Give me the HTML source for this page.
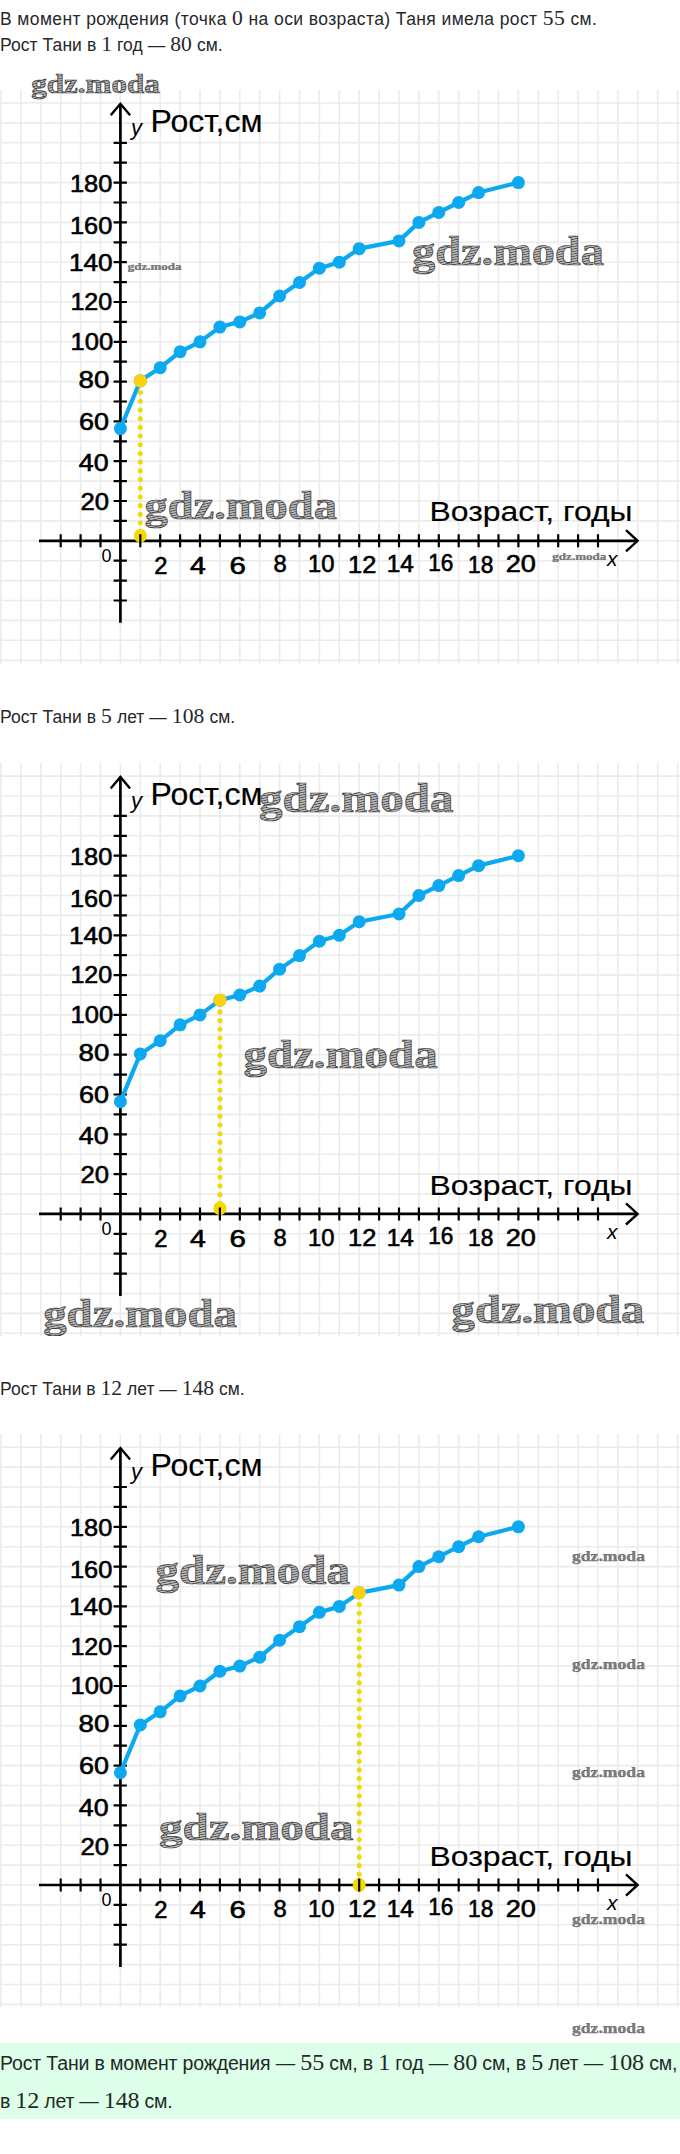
<!DOCTYPE html>
<html><head><meta charset="utf-8">
<style>
html,body{margin:0;padding:0;background:#fff;}
body{width:680px;height:2154px;position:relative;overflow:hidden;font-family:"Liberation Sans",sans-serif;color:#26282c;}
.p{position:absolute;left:0;font-size:17.5px;letter-spacing:0.8px;white-space:nowrap;line-height:26px;}
.k{font-family:"Liberation Serif",serif;font-size:1.235em;}
.bx{font-size:19.5px;color:#1f2a25;}
svg text{font-family:"Liberation Sans",sans-serif;fill:#000;}
svg text.b{stroke:#000;stroke-width:0.6px;}
svg text.b2{stroke:#000;stroke-width:0.15px;}
svg text.wm{font-family:"Liberation Serif",serif;font-weight:bold;fill:url(#hat);stroke:#333;stroke-width:0.65px;}
svg text.wms{font-family:"Liberation Serif",serif;font-weight:bold;fill:#7c7c7c;stroke:#555;stroke-width:0.25px;}
.box{position:absolute;left:0;top:2042.5px;width:680px;height:76px;background:#ddfee9;}
</style></head><body>
<svg width="0" height="0" style="position:absolute"><defs><pattern id="hat" width="20" height="2.4" patternUnits="userSpaceOnUse" patternTransform="rotate(-12)"><rect width="20" height="2.4" fill="#bcbcbc"/><rect width="20" height="0.8" fill="#4a4a4a"/></pattern></defs></svg>
<div class="p" style="top:5px;letter-spacing:0.40px">В момент рождения (точка <span class="k">0</span> на оси возраста) Таня имела рост <span class="k">55</span> см.</div>
<div class="p" style="top:31px;letter-spacing:0.07px">Рост Тани в <span class="k">1</span> год — <span class="k">80</span> см.</div>
<svg width="680" height="613.8" viewBox="0 50.0 680 613.8" style="position:absolute;left:0;top:50.0px">
<path d="M1.00 90.0V663.8M20.90 90.0V663.8M40.80 90.0V663.8M60.70 90.0V663.8M80.60 90.0V663.8M100.50 90.0V663.8M120.40 90.0V663.8M140.30 90.0V663.8M160.20 90.0V663.8M180.10 90.0V663.8M200.00 90.0V663.8M219.90 90.0V663.8M239.80 90.0V663.8M259.70 90.0V663.8M279.60 90.0V663.8M299.50 90.0V663.8M319.40 90.0V663.8M339.30 90.0V663.8M359.20 90.0V663.8M379.10 90.0V663.8M399.00 90.0V663.8M418.90 90.0V663.8M438.80 90.0V663.8M458.70 90.0V663.8M478.60 90.0V663.8M498.50 90.0V663.8M518.40 90.0V663.8M538.30 90.0V663.8M558.20 90.0V663.8M578.10 90.0V663.8M598.00 90.0V663.8M617.90 90.0V663.8M637.80 90.0V663.8M657.70 90.0V663.8M677.60 90.0V663.8M0 103.00H680M0 122.90H680M0 142.80H680M0 162.70H680M0 182.60H680M0 202.50H680M0 222.40H680M0 242.30H680M0 262.20H680M0 282.10H680M0 302.00H680M0 321.90H680M0 341.80H680M0 361.70H680M0 381.60H680M0 401.50H680M0 421.40H680M0 441.30H680M0 461.20H680M0 481.10H680M0 501.00H680M0 520.90H680M0 540.80H680M0 560.70H680M0 580.60H680M0 600.50H680M0 620.40H680M0 640.30H680M0 660.20H680" stroke="#ebebeb" stroke-width="1.6" fill="none"/>
<path d="M140.30 392.50V544.80" stroke="#ecdc00" stroke-width="5" stroke-linecap="round" stroke-dasharray="0.1 8.6" fill="none"/>
<path d="M39 540.80H636 M120.4 622.80V104.80" stroke="#000" stroke-width="2.7" fill="none"/>
<path d="M110.7 115.30L120.4 103.80L130.1 115.30 M626 530.20L637.6 540.80L626 551.40" stroke="#000" stroke-width="2.4" fill="none"/>
<ellipse cx="140.30" cy="535.80" rx="6.5" ry="7" fill="#f4d800"/>
<path d="M60.70 534.30V547.30M80.60 534.30V547.30M100.50 534.30V547.30M140.30 534.30V547.30M160.20 534.30V547.30M180.10 534.30V547.30M200.00 534.30V547.30M219.90 534.30V547.30M239.80 534.30V547.30M259.70 534.30V547.30M279.60 534.30V547.30M299.50 534.30V547.30M319.40 534.30V547.30M339.30 534.30V547.30M359.20 534.30V547.30M379.10 534.30V547.30M399.00 534.30V547.30M418.90 534.30V547.30M438.80 534.30V547.30M458.70 534.30V547.30M478.60 534.30V547.30M498.50 534.30V547.30M518.40 534.30V547.30M538.30 534.30V547.30M558.20 534.30V547.30M578.10 534.30V547.30M598.00 534.30V547.30M113.60 600.50H126.90M113.60 580.60H126.90M113.60 560.70H126.90M113.60 520.90H126.90M113.60 501.00H126.90M113.60 481.10H126.90M113.60 461.20H126.90M113.60 441.30H126.90M113.60 421.40H126.90M113.60 401.50H126.90M113.60 381.60H126.90M113.60 361.70H126.90M113.60 341.80H126.90M113.60 321.90H126.90M113.60 302.00H126.90M113.60 282.10H126.90M113.60 262.20H126.90M113.60 242.30H126.90M113.60 222.40H126.90M113.60 202.50H126.90M113.60 182.60H126.90M113.60 162.70H126.90M113.60 142.80H126.90" stroke="#000" stroke-width="2.2" fill="none"/>
<text x="91.10" y="191.60" text-anchor="middle" font-size="24" textLength="42.37" lengthAdjust="spacingAndGlyphs" class="b">180</text>
<text x="91.10" y="234.00" text-anchor="middle" font-size="24" textLength="42.37" lengthAdjust="spacingAndGlyphs" class="b">160</text>
<text x="90.85" y="271.00" text-anchor="middle" font-size="24" textLength="43.74" lengthAdjust="spacingAndGlyphs" class="b">140</text>
<text x="91.35" y="310.30" text-anchor="middle" font-size="24" textLength="41.84" lengthAdjust="spacingAndGlyphs" class="b">120</text>
<text x="91.80" y="350.20" text-anchor="middle" font-size="24" textLength="42.58" lengthAdjust="spacingAndGlyphs" class="b">100</text>
<text x="93.90" y="387.80" text-anchor="middle" font-size="24" textLength="30.76" lengthAdjust="spacingAndGlyphs" class="b">80</text>
<text x="94.10" y="430.00" text-anchor="middle" font-size="24" textLength="29.99" lengthAdjust="spacingAndGlyphs" class="b">60</text>
<text x="93.65" y="471.30" text-anchor="middle" font-size="24" textLength="29.77" lengthAdjust="spacingAndGlyphs" class="b">40</text>
<text x="94.80" y="510.30" text-anchor="middle" font-size="24" textLength="28.55" lengthAdjust="spacingAndGlyphs" class="b">20</text>
<text x="160.80" y="574.00" text-anchor="middle" font-size="23" textLength="13.22" lengthAdjust="spacingAndGlyphs" class="b">2</text>
<text x="198.00" y="574.00" text-anchor="middle" font-size="23" textLength="15.78" lengthAdjust="spacingAndGlyphs" class="b">4</text>
<text x="237.65" y="574.00" text-anchor="middle" font-size="23" textLength="16.4" lengthAdjust="spacingAndGlyphs" class="b">6</text>
<text x="280.20" y="572.40" text-anchor="middle" font-size="23" textLength="13.22" lengthAdjust="spacingAndGlyphs" class="b">8</text>
<text x="321.20" y="572.50" text-anchor="middle" font-size="23" textLength="26.45" lengthAdjust="spacingAndGlyphs" class="b">10</text>
<text x="362.20" y="573.00" text-anchor="middle" font-size="23" textLength="28.26" lengthAdjust="spacingAndGlyphs" class="b">12</text>
<text x="400.30" y="572.50" text-anchor="middle" font-size="23" textLength="27.09" lengthAdjust="spacingAndGlyphs" class="b">14</text>
<text x="440.80" y="570.80" text-anchor="middle" font-size="23" textLength="25.17" lengthAdjust="spacingAndGlyphs" class="b">16</text>
<text x="480.75" y="573.00" text-anchor="middle" font-size="23" textLength="25.27" lengthAdjust="spacingAndGlyphs" class="b">18</text>
<text x="520.85" y="572.50" text-anchor="middle" font-size="23" textLength="30.18" lengthAdjust="spacingAndGlyphs" class="b">20</text>
<text x="101.5" y="561.80" font-size="18">0</text>
<text x="131" y="134.80" font-size="22" font-style="italic">y</text>
<text x="607" y="565.80" font-size="21" font-style="italic">x</text>
<text x="150.5" y="131.80" font-size="31" textLength="112" lengthAdjust="spacingAndGlyphs" class="b2">Рост,см</text>
<text x="429.5" y="521.40" font-size="27.5" textLength="203" lengthAdjust="spacingAndGlyphs" class="b2">Возраст, годы</text>
<path d="M120.40 428.56L140.30 380.80L160.20 367.67L180.10 351.75L200.00 341.80L219.90 327.07L239.80 321.90L259.70 312.94L279.60 296.03L299.50 282.50L319.40 268.17L339.30 262.20L359.20 248.67L399.00 240.91L418.90 222.40L438.80 212.45L458.70 202.50L478.60 192.55L518.40 182.60" stroke="#0ca8f0" stroke-width="4.2" fill="none" stroke-linejoin="round"/>
<circle cx="120.40" cy="428.56" r="6.5" fill="#0ca8f0"/>
<circle cx="140.30" cy="380.80" r="6.5" fill="#0ca8f0"/>
<circle cx="160.20" cy="367.67" r="6.5" fill="#0ca8f0"/>
<circle cx="180.10" cy="351.75" r="6.5" fill="#0ca8f0"/>
<circle cx="200.00" cy="341.80" r="6.5" fill="#0ca8f0"/>
<circle cx="219.90" cy="327.07" r="6.5" fill="#0ca8f0"/>
<circle cx="239.80" cy="321.90" r="6.5" fill="#0ca8f0"/>
<circle cx="259.70" cy="312.94" r="6.5" fill="#0ca8f0"/>
<circle cx="279.60" cy="296.03" r="6.5" fill="#0ca8f0"/>
<circle cx="299.50" cy="282.50" r="6.5" fill="#0ca8f0"/>
<circle cx="319.40" cy="268.17" r="6.5" fill="#0ca8f0"/>
<circle cx="339.30" cy="262.20" r="6.5" fill="#0ca8f0"/>
<circle cx="359.20" cy="248.67" r="6.5" fill="#0ca8f0"/>
<circle cx="399.00" cy="240.91" r="6.5" fill="#0ca8f0"/>
<circle cx="418.90" cy="222.40" r="6.5" fill="#0ca8f0"/>
<circle cx="438.80" cy="212.45" r="6.5" fill="#0ca8f0"/>
<circle cx="458.70" cy="202.50" r="6.5" fill="#0ca8f0"/>
<circle cx="478.60" cy="192.55" r="6.5" fill="#0ca8f0"/>
<circle cx="518.40" cy="182.60" r="6.5" fill="#0ca8f0"/>
<circle cx="140.30" cy="380.80" r="6.6" fill="#fdd20a"/>
<text x="31.3" y="93.2" class="wm" font-size="26.3" textLength="128.4" lengthAdjust="spacingAndGlyphs">gdz.moda</text>
<text x="127.8" y="270.0" class="wms" font-size="10.1" textLength="53.8" lengthAdjust="spacingAndGlyphs">gdz.moda</text>
<text x="144.4" y="519.5" class="wm" font-size="40.5" textLength="192.6" lengthAdjust="spacingAndGlyphs">gdz.moda</text>
<text x="412.1" y="264.7" class="wm" font-size="42.3" textLength="191.7" lengthAdjust="spacingAndGlyphs">gdz.moda</text>
<text x="552.3" y="559.6" class="wms" font-size="11.1" textLength="54.1" lengthAdjust="spacingAndGlyphs">gdz.moda</text>
</svg>
<div class="p" style="top:703px;letter-spacing:0.06px">Рост Тани в <span class="k">5</span> лет — <span class="k">108</span> см.</div>
<svg width="680" height="613.0" viewBox="0 723.0 680 613.0" style="position:absolute;left:0;top:723.0px">
<path d="M1.00 763.0V1336.0M20.90 763.0V1336.0M40.80 763.0V1336.0M60.70 763.0V1336.0M80.60 763.0V1336.0M100.50 763.0V1336.0M120.40 763.0V1336.0M140.30 763.0V1336.0M160.20 763.0V1336.0M180.10 763.0V1336.0M200.00 763.0V1336.0M219.90 763.0V1336.0M239.80 763.0V1336.0M259.70 763.0V1336.0M279.60 763.0V1336.0M299.50 763.0V1336.0M319.40 763.0V1336.0M339.30 763.0V1336.0M359.20 763.0V1336.0M379.10 763.0V1336.0M399.00 763.0V1336.0M418.90 763.0V1336.0M438.80 763.0V1336.0M458.70 763.0V1336.0M478.60 763.0V1336.0M498.50 763.0V1336.0M518.40 763.0V1336.0M538.30 763.0V1336.0M558.20 763.0V1336.0M578.10 763.0V1336.0M598.00 763.0V1336.0M617.90 763.0V1336.0M637.80 763.0V1336.0M657.70 763.0V1336.0M677.60 763.0V1336.0M0 776.10H680M0 796.00H680M0 815.90H680M0 835.80H680M0 855.70H680M0 875.60H680M0 895.50H680M0 915.40H680M0 935.30H680M0 955.20H680M0 975.10H680M0 995.00H680M0 1014.90H680M0 1034.80H680M0 1054.70H680M0 1074.60H680M0 1094.50H680M0 1114.40H680M0 1134.30H680M0 1154.20H680M0 1174.10H680M0 1194.00H680M0 1213.90H680M0 1233.80H680M0 1253.70H680M0 1273.60H680M0 1293.50H680M0 1313.40H680M0 1333.30H680" stroke="#ebebeb" stroke-width="1.6" fill="none"/>
<path d="M219.90 1011.87V1217.90" stroke="#ecdc00" stroke-width="5" stroke-linecap="round" stroke-dasharray="0.1 8.6" fill="none"/>
<path d="M39 1213.90H636 M120.4 1295.90V777.90" stroke="#000" stroke-width="2.7" fill="none"/>
<path d="M110.7 788.40L120.4 776.90L130.1 788.40 M626 1203.30L637.6 1213.90L626 1224.50" stroke="#000" stroke-width="2.4" fill="none"/>
<ellipse cx="219.90" cy="1208.40" rx="6.5" ry="7" fill="#f4d800"/>
<path d="M60.70 1207.40V1220.40M80.60 1207.40V1220.40M100.50 1207.40V1220.40M140.30 1207.40V1220.40M160.20 1207.40V1220.40M180.10 1207.40V1220.40M200.00 1207.40V1220.40M219.90 1207.40V1220.40M239.80 1207.40V1220.40M259.70 1207.40V1220.40M279.60 1207.40V1220.40M299.50 1207.40V1220.40M319.40 1207.40V1220.40M339.30 1207.40V1220.40M359.20 1207.40V1220.40M379.10 1207.40V1220.40M399.00 1207.40V1220.40M418.90 1207.40V1220.40M438.80 1207.40V1220.40M458.70 1207.40V1220.40M478.60 1207.40V1220.40M498.50 1207.40V1220.40M518.40 1207.40V1220.40M538.30 1207.40V1220.40M558.20 1207.40V1220.40M578.10 1207.40V1220.40M598.00 1207.40V1220.40M113.60 1273.60H126.90M113.60 1253.70H126.90M113.60 1233.80H126.90M113.60 1194.00H126.90M113.60 1174.10H126.90M113.60 1154.20H126.90M113.60 1134.30H126.90M113.60 1114.40H126.90M113.60 1094.50H126.90M113.60 1074.60H126.90M113.60 1054.70H126.90M113.60 1034.80H126.90M113.60 1014.90H126.90M113.60 995.00H126.90M113.60 975.10H126.90M113.60 955.20H126.90M113.60 935.30H126.90M113.60 915.40H126.90M113.60 895.50H126.90M113.60 875.60H126.90M113.60 855.70H126.90M113.60 835.80H126.90M113.60 815.90H126.90" stroke="#000" stroke-width="2.2" fill="none"/>
<text x="91.10" y="864.70" text-anchor="middle" font-size="24" textLength="42.37" lengthAdjust="spacingAndGlyphs" class="b">180</text>
<text x="91.10" y="907.10" text-anchor="middle" font-size="24" textLength="42.37" lengthAdjust="spacingAndGlyphs" class="b">160</text>
<text x="90.85" y="944.10" text-anchor="middle" font-size="24" textLength="43.74" lengthAdjust="spacingAndGlyphs" class="b">140</text>
<text x="91.35" y="983.40" text-anchor="middle" font-size="24" textLength="41.84" lengthAdjust="spacingAndGlyphs" class="b">120</text>
<text x="91.80" y="1023.30" text-anchor="middle" font-size="24" textLength="42.58" lengthAdjust="spacingAndGlyphs" class="b">100</text>
<text x="93.90" y="1060.90" text-anchor="middle" font-size="24" textLength="30.76" lengthAdjust="spacingAndGlyphs" class="b">80</text>
<text x="94.10" y="1103.10" text-anchor="middle" font-size="24" textLength="29.99" lengthAdjust="spacingAndGlyphs" class="b">60</text>
<text x="93.65" y="1144.40" text-anchor="middle" font-size="24" textLength="29.77" lengthAdjust="spacingAndGlyphs" class="b">40</text>
<text x="94.80" y="1183.40" text-anchor="middle" font-size="24" textLength="28.55" lengthAdjust="spacingAndGlyphs" class="b">20</text>
<text x="160.80" y="1247.10" text-anchor="middle" font-size="23" textLength="13.22" lengthAdjust="spacingAndGlyphs" class="b">2</text>
<text x="198.00" y="1247.10" text-anchor="middle" font-size="23" textLength="15.78" lengthAdjust="spacingAndGlyphs" class="b">4</text>
<text x="237.65" y="1247.10" text-anchor="middle" font-size="23" textLength="16.4" lengthAdjust="spacingAndGlyphs" class="b">6</text>
<text x="280.20" y="1245.50" text-anchor="middle" font-size="23" textLength="13.22" lengthAdjust="spacingAndGlyphs" class="b">8</text>
<text x="321.20" y="1245.60" text-anchor="middle" font-size="23" textLength="26.45" lengthAdjust="spacingAndGlyphs" class="b">10</text>
<text x="362.20" y="1246.10" text-anchor="middle" font-size="23" textLength="28.26" lengthAdjust="spacingAndGlyphs" class="b">12</text>
<text x="400.30" y="1245.60" text-anchor="middle" font-size="23" textLength="27.09" lengthAdjust="spacingAndGlyphs" class="b">14</text>
<text x="440.80" y="1243.90" text-anchor="middle" font-size="23" textLength="25.17" lengthAdjust="spacingAndGlyphs" class="b">16</text>
<text x="480.75" y="1246.10" text-anchor="middle" font-size="23" textLength="25.27" lengthAdjust="spacingAndGlyphs" class="b">18</text>
<text x="520.85" y="1245.60" text-anchor="middle" font-size="23" textLength="30.18" lengthAdjust="spacingAndGlyphs" class="b">20</text>
<text x="101.5" y="1234.90" font-size="18">0</text>
<text x="131" y="807.90" font-size="22" font-style="italic">y</text>
<text x="607" y="1238.90" font-size="21" font-style="italic">x</text>
<text x="150.5" y="804.90" font-size="31" textLength="112" lengthAdjust="spacingAndGlyphs" class="b2">Рост,см</text>
<text x="429.5" y="1194.50" font-size="27.5" textLength="203" lengthAdjust="spacingAndGlyphs" class="b2">Возраст, годы</text>
<path d="M120.40 1101.66L140.30 1053.90L160.20 1040.77L180.10 1024.85L200.00 1014.90L219.90 1000.17L239.80 995.00L259.70 986.05L279.60 969.13L299.50 955.60L319.40 941.27L339.30 935.30L359.20 921.77L399.00 914.01L418.90 895.50L438.80 885.55L458.70 875.60L478.60 865.65L518.40 855.70" stroke="#0ca8f0" stroke-width="4.2" fill="none" stroke-linejoin="round"/>
<circle cx="120.40" cy="1101.66" r="6.5" fill="#0ca8f0"/>
<circle cx="140.30" cy="1053.90" r="6.5" fill="#0ca8f0"/>
<circle cx="160.20" cy="1040.77" r="6.5" fill="#0ca8f0"/>
<circle cx="180.10" cy="1024.85" r="6.5" fill="#0ca8f0"/>
<circle cx="200.00" cy="1014.90" r="6.5" fill="#0ca8f0"/>
<circle cx="219.90" cy="1000.17" r="6.5" fill="#0ca8f0"/>
<circle cx="239.80" cy="995.00" r="6.5" fill="#0ca8f0"/>
<circle cx="259.70" cy="986.05" r="6.5" fill="#0ca8f0"/>
<circle cx="279.60" cy="969.13" r="6.5" fill="#0ca8f0"/>
<circle cx="299.50" cy="955.60" r="6.5" fill="#0ca8f0"/>
<circle cx="319.40" cy="941.27" r="6.5" fill="#0ca8f0"/>
<circle cx="339.30" cy="935.30" r="6.5" fill="#0ca8f0"/>
<circle cx="359.20" cy="921.77" r="6.5" fill="#0ca8f0"/>
<circle cx="399.00" cy="914.01" r="6.5" fill="#0ca8f0"/>
<circle cx="418.90" cy="895.50" r="6.5" fill="#0ca8f0"/>
<circle cx="438.80" cy="885.55" r="6.5" fill="#0ca8f0"/>
<circle cx="458.70" cy="875.60" r="6.5" fill="#0ca8f0"/>
<circle cx="478.60" cy="865.65" r="6.5" fill="#0ca8f0"/>
<circle cx="518.40" cy="855.70" r="6.5" fill="#0ca8f0"/>
<circle cx="219.90" cy="1000.17" r="6.6" fill="#fdd20a"/>
<text x="259.1" y="811.7" class="wm" font-size="42.6" textLength="194.3" lengthAdjust="spacingAndGlyphs">gdz.moda</text>
<text x="243.5" y="1067.6" class="wm" font-size="41.0" textLength="194.1" lengthAdjust="spacingAndGlyphs">gdz.moda</text>
<text x="43.2" y="1327.0" class="wm" font-size="39.7" textLength="193.8" lengthAdjust="spacingAndGlyphs">gdz.moda</text>
<text x="451.6" y="1323.2" class="wm" font-size="40.0" textLength="192.8" lengthAdjust="spacingAndGlyphs">gdz.moda</text>
</svg>
<div class="p" style="top:1375px;letter-spacing:0.01px">Рост Тани в <span class="k">12</span> лет — <span class="k">148</span> см.</div>
<svg width="680" height="613.0" viewBox="0 1394.0 680 613.0" style="position:absolute;left:0;top:1394.0px">
<path d="M1.00 1434.0V2007.0M20.90 1434.0V2007.0M40.80 1434.0V2007.0M60.70 1434.0V2007.0M80.60 1434.0V2007.0M100.50 1434.0V2007.0M120.40 1434.0V2007.0M140.30 1434.0V2007.0M160.20 1434.0V2007.0M180.10 1434.0V2007.0M200.00 1434.0V2007.0M219.90 1434.0V2007.0M239.80 1434.0V2007.0M259.70 1434.0V2007.0M279.60 1434.0V2007.0M299.50 1434.0V2007.0M319.40 1434.0V2007.0M339.30 1434.0V2007.0M359.20 1434.0V2007.0M379.10 1434.0V2007.0M399.00 1434.0V2007.0M418.90 1434.0V2007.0M438.80 1434.0V2007.0M458.70 1434.0V2007.0M478.60 1434.0V2007.0M498.50 1434.0V2007.0M518.40 1434.0V2007.0M538.30 1434.0V2007.0M558.20 1434.0V2007.0M578.10 1434.0V2007.0M598.00 1434.0V2007.0M617.90 1434.0V2007.0M637.80 1434.0V2007.0M657.70 1434.0V2007.0M677.60 1434.0V2007.0M0 1447.20H680M0 1467.10H680M0 1487.00H680M0 1506.90H680M0 1526.80H680M0 1546.70H680M0 1566.60H680M0 1586.50H680M0 1606.40H680M0 1626.30H680M0 1646.20H680M0 1666.10H680M0 1686.00H680M0 1705.90H680M0 1725.80H680M0 1745.70H680M0 1765.60H680M0 1785.50H680M0 1805.40H680M0 1825.30H680M0 1845.20H680M0 1865.10H680M0 1885.00H680M0 1904.90H680M0 1924.80H680M0 1944.70H680M0 1964.60H680M0 1984.50H680M0 2004.40H680" stroke="#ebebeb" stroke-width="1.6" fill="none"/>
<path d="M359.20 1604.57V1889.00" stroke="#ecdc00" stroke-width="5" stroke-linecap="round" stroke-dasharray="0.1 8.6" fill="none"/>
<path d="M39 1885.00H636 M120.4 1967.00V1449.00" stroke="#000" stroke-width="2.7" fill="none"/>
<path d="M110.7 1459.50L120.4 1448.00L130.1 1459.50 M626 1874.40L637.6 1885.00L626 1895.60" stroke="#000" stroke-width="2.4" fill="none"/>
<ellipse cx="359.20" cy="1885.00" rx="6.5" ry="7" fill="#f4d800"/>
<path d="M60.70 1878.50V1891.50M80.60 1878.50V1891.50M100.50 1878.50V1891.50M140.30 1878.50V1891.50M160.20 1878.50V1891.50M180.10 1878.50V1891.50M200.00 1878.50V1891.50M219.90 1878.50V1891.50M239.80 1878.50V1891.50M259.70 1878.50V1891.50M279.60 1878.50V1891.50M299.50 1878.50V1891.50M319.40 1878.50V1891.50M339.30 1878.50V1891.50M359.20 1878.50V1891.50M379.10 1878.50V1891.50M399.00 1878.50V1891.50M418.90 1878.50V1891.50M438.80 1878.50V1891.50M458.70 1878.50V1891.50M478.60 1878.50V1891.50M498.50 1878.50V1891.50M518.40 1878.50V1891.50M538.30 1878.50V1891.50M558.20 1878.50V1891.50M578.10 1878.50V1891.50M598.00 1878.50V1891.50M113.60 1944.70H126.90M113.60 1924.80H126.90M113.60 1904.90H126.90M113.60 1865.10H126.90M113.60 1845.20H126.90M113.60 1825.30H126.90M113.60 1805.40H126.90M113.60 1785.50H126.90M113.60 1765.60H126.90M113.60 1745.70H126.90M113.60 1725.80H126.90M113.60 1705.90H126.90M113.60 1686.00H126.90M113.60 1666.10H126.90M113.60 1646.20H126.90M113.60 1626.30H126.90M113.60 1606.40H126.90M113.60 1586.50H126.90M113.60 1566.60H126.90M113.60 1546.70H126.90M113.60 1526.80H126.90M113.60 1506.90H126.90M113.60 1487.00H126.90" stroke="#000" stroke-width="2.2" fill="none"/>
<text x="91.10" y="1535.80" text-anchor="middle" font-size="24" textLength="42.37" lengthAdjust="spacingAndGlyphs" class="b">180</text>
<text x="91.10" y="1578.20" text-anchor="middle" font-size="24" textLength="42.37" lengthAdjust="spacingAndGlyphs" class="b">160</text>
<text x="90.85" y="1615.20" text-anchor="middle" font-size="24" textLength="43.74" lengthAdjust="spacingAndGlyphs" class="b">140</text>
<text x="91.35" y="1654.50" text-anchor="middle" font-size="24" textLength="41.84" lengthAdjust="spacingAndGlyphs" class="b">120</text>
<text x="91.80" y="1694.40" text-anchor="middle" font-size="24" textLength="42.58" lengthAdjust="spacingAndGlyphs" class="b">100</text>
<text x="93.90" y="1732.00" text-anchor="middle" font-size="24" textLength="30.76" lengthAdjust="spacingAndGlyphs" class="b">80</text>
<text x="94.10" y="1774.20" text-anchor="middle" font-size="24" textLength="29.99" lengthAdjust="spacingAndGlyphs" class="b">60</text>
<text x="93.65" y="1815.50" text-anchor="middle" font-size="24" textLength="29.77" lengthAdjust="spacingAndGlyphs" class="b">40</text>
<text x="94.80" y="1854.50" text-anchor="middle" font-size="24" textLength="28.55" lengthAdjust="spacingAndGlyphs" class="b">20</text>
<text x="160.80" y="1918.20" text-anchor="middle" font-size="23" textLength="13.22" lengthAdjust="spacingAndGlyphs" class="b">2</text>
<text x="198.00" y="1918.20" text-anchor="middle" font-size="23" textLength="15.78" lengthAdjust="spacingAndGlyphs" class="b">4</text>
<text x="237.65" y="1918.20" text-anchor="middle" font-size="23" textLength="16.4" lengthAdjust="spacingAndGlyphs" class="b">6</text>
<text x="280.20" y="1916.60" text-anchor="middle" font-size="23" textLength="13.22" lengthAdjust="spacingAndGlyphs" class="b">8</text>
<text x="321.20" y="1916.70" text-anchor="middle" font-size="23" textLength="26.45" lengthAdjust="spacingAndGlyphs" class="b">10</text>
<text x="362.20" y="1917.20" text-anchor="middle" font-size="23" textLength="28.26" lengthAdjust="spacingAndGlyphs" class="b">12</text>
<text x="400.30" y="1916.70" text-anchor="middle" font-size="23" textLength="27.09" lengthAdjust="spacingAndGlyphs" class="b">14</text>
<text x="440.80" y="1915.00" text-anchor="middle" font-size="23" textLength="25.17" lengthAdjust="spacingAndGlyphs" class="b">16</text>
<text x="480.75" y="1917.20" text-anchor="middle" font-size="23" textLength="25.27" lengthAdjust="spacingAndGlyphs" class="b">18</text>
<text x="520.85" y="1916.70" text-anchor="middle" font-size="23" textLength="30.18" lengthAdjust="spacingAndGlyphs" class="b">20</text>
<text x="101.5" y="1906.00" font-size="18">0</text>
<text x="131" y="1479.00" font-size="22" font-style="italic">y</text>
<text x="607" y="1910.00" font-size="21" font-style="italic">x</text>
<text x="150.5" y="1476.00" font-size="31" textLength="112" lengthAdjust="spacingAndGlyphs" class="b2">Рост,см</text>
<text x="429.5" y="1865.60" font-size="27.5" textLength="203" lengthAdjust="spacingAndGlyphs" class="b2">Возраст, годы</text>
<path d="M120.40 1772.76L140.30 1725.00L160.20 1711.87L180.10 1695.95L200.00 1686.00L219.90 1671.27L239.80 1666.10L259.70 1657.14L279.60 1640.23L299.50 1626.70L319.40 1612.37L339.30 1606.40L359.20 1592.87L399.00 1585.11L418.90 1566.60L438.80 1556.65L458.70 1546.70L478.60 1536.75L518.40 1526.80" stroke="#0ca8f0" stroke-width="4.2" fill="none" stroke-linejoin="round"/>
<circle cx="120.40" cy="1772.76" r="6.5" fill="#0ca8f0"/>
<circle cx="140.30" cy="1725.00" r="6.5" fill="#0ca8f0"/>
<circle cx="160.20" cy="1711.87" r="6.5" fill="#0ca8f0"/>
<circle cx="180.10" cy="1695.95" r="6.5" fill="#0ca8f0"/>
<circle cx="200.00" cy="1686.00" r="6.5" fill="#0ca8f0"/>
<circle cx="219.90" cy="1671.27" r="6.5" fill="#0ca8f0"/>
<circle cx="239.80" cy="1666.10" r="6.5" fill="#0ca8f0"/>
<circle cx="259.70" cy="1657.14" r="6.5" fill="#0ca8f0"/>
<circle cx="279.60" cy="1640.23" r="6.5" fill="#0ca8f0"/>
<circle cx="299.50" cy="1626.70" r="6.5" fill="#0ca8f0"/>
<circle cx="319.40" cy="1612.37" r="6.5" fill="#0ca8f0"/>
<circle cx="339.30" cy="1606.40" r="6.5" fill="#0ca8f0"/>
<circle cx="359.20" cy="1592.87" r="6.5" fill="#0ca8f0"/>
<circle cx="399.00" cy="1585.11" r="6.5" fill="#0ca8f0"/>
<circle cx="418.90" cy="1566.60" r="6.5" fill="#0ca8f0"/>
<circle cx="438.80" cy="1556.65" r="6.5" fill="#0ca8f0"/>
<circle cx="458.70" cy="1546.70" r="6.5" fill="#0ca8f0"/>
<circle cx="478.60" cy="1536.75" r="6.5" fill="#0ca8f0"/>
<circle cx="518.40" cy="1526.80" r="6.5" fill="#0ca8f0"/>
<circle cx="359.20" cy="1592.87" r="6.6" fill="#fdd20a"/>
<text x="155.6" y="1584.0" class="wm" font-size="41.9" textLength="194.3" lengthAdjust="spacingAndGlyphs">gdz.moda</text>
<text x="159.1" y="1839.6" class="wm" font-size="38.8" textLength="194.3" lengthAdjust="spacingAndGlyphs">gdz.moda</text>
<text x="572.0" y="1560.6" class="wms" font-size="14.5" textLength="73.0" lengthAdjust="spacingAndGlyphs">gdz.moda</text>
<text x="572.0" y="1668.8" class="wms" font-size="14.8" textLength="73.0" lengthAdjust="spacingAndGlyphs">gdz.moda</text>
<text x="572.0" y="1777.0" class="wms" font-size="14.2" textLength="73.0" lengthAdjust="spacingAndGlyphs">gdz.moda</text>
<text x="572.0" y="1924.1" class="wms" font-size="14.5" textLength="73.0" lengthAdjust="spacingAndGlyphs">gdz.moda</text>
</svg>
<svg width="680" height="30" style="position:absolute;left:0;top:2015px" viewBox="0 2015 680 30"><text x="572.0" y="2032.6" class="wms" font-size="14.5" textLength="73.0" lengthAdjust="spacingAndGlyphs">gdz.moda</text></svg>
<div class="box"></div>
<div class="p bx" style="top:2048.5px;letter-spacing:-0.15px">Рост Тани в момент рождения — <span class="k">55</span> см, в <span class="k">1</span> год — <span class="k">80</span> см, в <span class="k">5</span> лет — <span class="k">108</span> см,</div>
<div class="p bx" style="top:2086.5px;letter-spacing:-0.21px">в <span class="k">12</span> лет — <span class="k">148</span> см.</div>
</body></html>
